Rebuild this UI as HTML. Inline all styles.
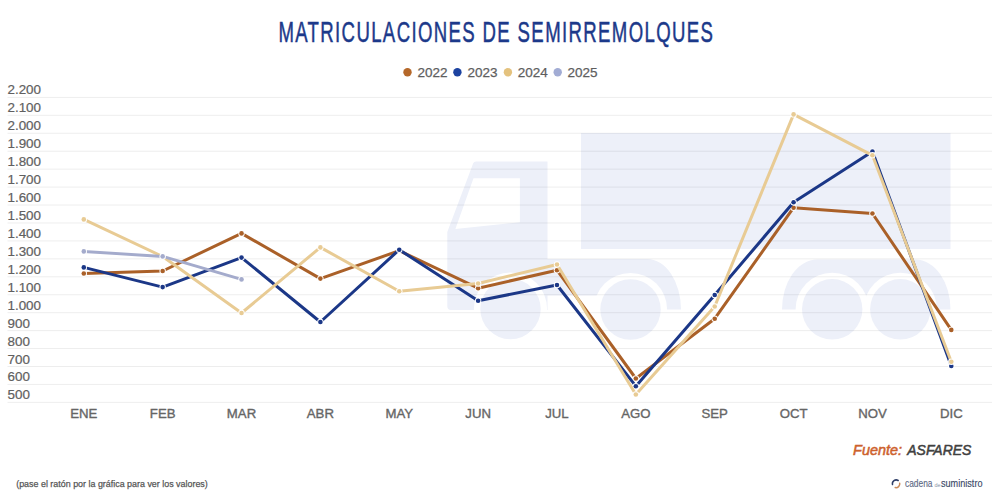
<!DOCTYPE html>
<html><head><meta charset="utf-8"><style>
html,body{margin:0;padding:0;background:#fff;width:1000px;height:500px;overflow:hidden}
svg{display:block}
text{font-family:"Liberation Sans",sans-serif}
</style></head><body>
<svg width="1000" height="500" viewBox="0 0 1000 500">
<rect width="1000" height="500" fill="#fff"/>
<g fill="#edf0f9"><rect x="581" y="133" width="369.5" height="116" />
<path d="M476,161.4 L547.5,161.4 L547.5,258.9 L647,258.9 A34,50.6 0 0 1 681,309.5 L630.5,309.5 L630.5,295.5 L547.5,295.5 L547.5,310 L451,310 Q447.3,310 447.3,306 L447.3,232 L473.2,163.2 Q473.9,161.4 476,161.4 Z"/>
<path d="M782,309.5 A35,49.9 0 0 1 817,259.6 L915.5,259.6 A35,49.9 0 0 1 950.5,309.5 Z"/></g>
<circle cx="510.5" cy="309.0" r="36.6" fill="#fff"/>
<circle cx="630.5" cy="309.5" r="36.6" fill="#fff"/>
<circle cx="832.2" cy="309.3" r="36.6" fill="#fff"/>
<circle cx="900.3" cy="309.3" r="36.6" fill="#fff"/>
<path d="M473.5,178.2 L519.9,178.2 L519.9,222.2 L455.4,228.9 Z" fill="#fff"/>
<g fill="#edf0f9"><circle cx="510.5" cy="309.0" r="30.2"/>
<circle cx="630.5" cy="309.5" r="30.2"/>
<circle cx="832.2" cy="309.3" r="30.2"/>
<circle cx="900.3" cy="309.3" r="30.2"/></g>
<g stroke="rgba(0,0,0,0.07)" stroke-width="1" fill="none">
<line x1="7.5" x2="992" y1="97.40" y2="97.40"/>
<line x1="7.5" x2="992" y1="115.34" y2="115.34"/>
<line x1="7.5" x2="992" y1="133.28" y2="133.28"/>
<line x1="7.5" x2="992" y1="151.22" y2="151.22"/>
<line x1="7.5" x2="992" y1="169.16" y2="169.16"/>
<line x1="7.5" x2="992" y1="187.10" y2="187.10"/>
<line x1="7.5" x2="992" y1="205.04" y2="205.04"/>
<line x1="7.5" x2="992" y1="222.98" y2="222.98"/>
<line x1="7.5" x2="992" y1="240.92" y2="240.92"/>
<line x1="7.5" x2="992" y1="258.86" y2="258.86"/>
<line x1="7.5" x2="992" y1="276.80" y2="276.80"/>
<line x1="7.5" x2="992" y1="294.74" y2="294.74"/>
<line x1="7.5" x2="992" y1="312.68" y2="312.68"/>
<line x1="7.5" x2="992" y1="330.62" y2="330.62"/>
<line x1="7.5" x2="992" y1="348.56" y2="348.56"/>
<line x1="7.5" x2="992" y1="366.50" y2="366.50"/>
<line x1="7.5" x2="992" y1="384.44" y2="384.44"/>
<line x1="7.5" x2="992" y1="402.38" y2="402.38"/>
</g>
<g font-size="13.4" fill="#606060" stroke="#606060" stroke-width="0.2">
<text x="7.5" y="94.40">2.200</text>
<text x="7.5" y="112.34">2.100</text>
<text x="7.5" y="130.28">2.000</text>
<text x="7.5" y="148.22">1.900</text>
<text x="7.5" y="166.16">1.800</text>
<text x="7.5" y="184.10">1.700</text>
<text x="7.5" y="202.04">1.600</text>
<text x="7.5" y="219.98">1.500</text>
<text x="7.5" y="237.92">1.400</text>
<text x="7.5" y="255.86">1.300</text>
<text x="7.5" y="273.80">1.200</text>
<text x="7.5" y="291.74">1.100</text>
<text x="7.5" y="309.68">1.000</text>
<text x="7.5" y="327.62">900</text>
<text x="7.5" y="345.56">800</text>
<text x="7.5" y="363.50">700</text>
<text x="7.5" y="381.44">600</text>
<text x="7.5" y="399.38">500</text>
</g>
<g font-size="13.2" fill="#656565" stroke="#656565" stroke-width="0.35" text-anchor="middle">
<text x="83.80" y="417.9">ENE</text>
<text x="162.66" y="417.9">FEB</text>
<text x="241.53" y="417.9">MAR</text>
<text x="320.39" y="417.9">ABR</text>
<text x="399.26" y="417.9">MAY</text>
<text x="478.12" y="417.9">JUN</text>
<text x="556.98" y="417.9">JUL</text>
<text x="635.85" y="417.9">AGO</text>
<text x="714.71" y="417.9">SEP</text>
<text x="793.58" y="417.9">OCT</text>
<text x="872.44" y="417.9">NOV</text>
<text x="951.30" y="417.9">DIC</text>
</g>
<polyline points="83.80,273.5 162.66,271.0 241.53,233.4 320.39,278.6 399.26,250.7 478.12,288.2 556.98,270.2 635.85,378.5 714.71,318.7 793.58,207.7 872.44,213.5 951.30,329.9" fill="none" stroke="#aa6028" stroke-width="3" stroke-linejoin="round" stroke-linecap="round"/>
<circle cx="83.80" cy="273.5" r="3.2" fill="#fff"/><circle cx="83.80" cy="273.5" r="2.3" fill="#aa6028"/>
<circle cx="162.66" cy="271.0" r="3.2" fill="#fff"/><circle cx="162.66" cy="271.0" r="2.3" fill="#aa6028"/>
<circle cx="241.53" cy="233.4" r="3.2" fill="#fff"/><circle cx="241.53" cy="233.4" r="2.3" fill="#aa6028"/>
<circle cx="320.39" cy="278.6" r="3.2" fill="#fff"/><circle cx="320.39" cy="278.6" r="2.3" fill="#aa6028"/>
<circle cx="399.26" cy="250.7" r="3.2" fill="#fff"/><circle cx="399.26" cy="250.7" r="2.3" fill="#aa6028"/>
<circle cx="478.12" cy="288.2" r="3.2" fill="#fff"/><circle cx="478.12" cy="288.2" r="2.3" fill="#aa6028"/>
<circle cx="556.98" cy="270.2" r="3.2" fill="#fff"/><circle cx="556.98" cy="270.2" r="2.3" fill="#aa6028"/>
<circle cx="635.85" cy="378.5" r="3.2" fill="#fff"/><circle cx="635.85" cy="378.5" r="2.3" fill="#aa6028"/>
<circle cx="714.71" cy="318.7" r="3.2" fill="#fff"/><circle cx="714.71" cy="318.7" r="2.3" fill="#aa6028"/>
<circle cx="793.58" cy="207.7" r="3.2" fill="#fff"/><circle cx="793.58" cy="207.7" r="2.3" fill="#aa6028"/>
<circle cx="872.44" cy="213.5" r="3.2" fill="#fff"/><circle cx="872.44" cy="213.5" r="2.3" fill="#aa6028"/>
<circle cx="951.30" cy="329.9" r="3.2" fill="#fff"/><circle cx="951.30" cy="329.9" r="2.3" fill="#aa6028"/>
<polyline points="83.80,267.4 162.66,287.1 241.53,257.6 320.39,322.0 399.26,249.7 478.12,300.7 556.98,285.0 635.85,386.2 714.71,295.0 793.58,202.3 872.44,151.6 951.30,366.0" fill="none" stroke="#1b3787" stroke-width="3" stroke-linejoin="round" stroke-linecap="round"/>
<circle cx="83.80" cy="267.4" r="3.2" fill="#fff"/><circle cx="83.80" cy="267.4" r="2.3" fill="#1b3787"/>
<circle cx="162.66" cy="287.1" r="3.2" fill="#fff"/><circle cx="162.66" cy="287.1" r="2.3" fill="#1b3787"/>
<circle cx="241.53" cy="257.6" r="3.2" fill="#fff"/><circle cx="241.53" cy="257.6" r="2.3" fill="#1b3787"/>
<circle cx="320.39" cy="322.0" r="3.2" fill="#fff"/><circle cx="320.39" cy="322.0" r="2.3" fill="#1b3787"/>
<circle cx="399.26" cy="249.7" r="3.2" fill="#fff"/><circle cx="399.26" cy="249.7" r="2.3" fill="#1b3787"/>
<circle cx="478.12" cy="300.7" r="3.2" fill="#fff"/><circle cx="478.12" cy="300.7" r="2.3" fill="#1b3787"/>
<circle cx="556.98" cy="285.0" r="3.2" fill="#fff"/><circle cx="556.98" cy="285.0" r="2.3" fill="#1b3787"/>
<circle cx="635.85" cy="386.2" r="3.2" fill="#fff"/><circle cx="635.85" cy="386.2" r="2.3" fill="#1b3787"/>
<circle cx="714.71" cy="295.0" r="3.2" fill="#fff"/><circle cx="714.71" cy="295.0" r="2.3" fill="#1b3787"/>
<circle cx="793.58" cy="202.3" r="3.2" fill="#fff"/><circle cx="793.58" cy="202.3" r="2.3" fill="#1b3787"/>
<circle cx="872.44" cy="151.6" r="3.2" fill="#fff"/><circle cx="872.44" cy="151.6" r="2.3" fill="#1b3787"/>
<circle cx="951.30" cy="366.0" r="3.2" fill="#fff"/><circle cx="951.30" cy="366.0" r="2.3" fill="#1b3787"/>
<polyline points="83.80,219.4 162.66,256.5 241.53,313.0 320.39,247.4 399.26,291.3 478.12,283.5 556.98,264.5 635.85,394.5 714.71,306.5 793.58,114.4 872.44,155.3 951.30,361.8" fill="none" stroke="#e8cb94" stroke-width="3" stroke-linejoin="round" stroke-linecap="round"/>
<circle cx="83.80" cy="219.4" r="3.2" fill="#fff"/><circle cx="83.80" cy="219.4" r="2.3" fill="#e8cb94"/>
<circle cx="162.66" cy="256.5" r="3.2" fill="#fff"/><circle cx="162.66" cy="256.5" r="2.3" fill="#e8cb94"/>
<circle cx="241.53" cy="313.0" r="3.2" fill="#fff"/><circle cx="241.53" cy="313.0" r="2.3" fill="#e8cb94"/>
<circle cx="320.39" cy="247.4" r="3.2" fill="#fff"/><circle cx="320.39" cy="247.4" r="2.3" fill="#e8cb94"/>
<circle cx="399.26" cy="291.3" r="3.2" fill="#fff"/><circle cx="399.26" cy="291.3" r="2.3" fill="#e8cb94"/>
<circle cx="478.12" cy="283.5" r="3.2" fill="#fff"/><circle cx="478.12" cy="283.5" r="2.3" fill="#e8cb94"/>
<circle cx="556.98" cy="264.5" r="3.2" fill="#fff"/><circle cx="556.98" cy="264.5" r="2.3" fill="#e8cb94"/>
<circle cx="635.85" cy="394.5" r="3.2" fill="#fff"/><circle cx="635.85" cy="394.5" r="2.3" fill="#e8cb94"/>
<circle cx="714.71" cy="306.5" r="3.2" fill="#fff"/><circle cx="714.71" cy="306.5" r="2.3" fill="#e8cb94"/>
<circle cx="793.58" cy="114.4" r="3.2" fill="#fff"/><circle cx="793.58" cy="114.4" r="2.3" fill="#e8cb94"/>
<circle cx="872.44" cy="155.3" r="3.2" fill="#fff"/><circle cx="872.44" cy="155.3" r="2.3" fill="#e8cb94"/>
<circle cx="951.30" cy="361.8" r="3.2" fill="#fff"/><circle cx="951.30" cy="361.8" r="2.3" fill="#e8cb94"/>
<polyline points="83.80,251.4 162.66,256.4 241.53,279.4" fill="none" stroke="#a4abcc" stroke-width="3" stroke-linejoin="round" stroke-linecap="round"/>
<circle cx="83.80" cy="251.4" r="3.2" fill="#fff"/><circle cx="83.80" cy="251.4" r="2.3" fill="#a4abcc"/>
<circle cx="162.66" cy="256.4" r="3.2" fill="#fff"/><circle cx="162.66" cy="256.4" r="2.3" fill="#a4abcc"/>
<circle cx="241.53" cy="279.4" r="3.2" fill="#fff"/><circle cx="241.53" cy="279.4" r="2.3" fill="#a4abcc"/>
<g transform="translate(278.4,0) scale(0.65,1)"><text x="0" y="42.3" font-size="28.6" fill="#1c398a" stroke="#1c398a" stroke-width="0.5" textLength="668.5" lengthAdjust="spacing">MATRICULACIONES DE SEMIRREMOLQUES</text></g>
<g font-size="13.5" fill="#5e5e5e" stroke="#5e5e5e" stroke-width="0.25">
<circle cx="407.5" cy="72.3" r="4.2" fill="#b5682a" stroke="none"/><text x="417.5" y="77">2022</text>
<circle cx="457.4" cy="72.3" r="4.2" fill="#1d43a0" stroke="none"/><text x="467.6" y="77">2023</text>
<circle cx="507.9" cy="72.3" r="4.2" fill="#e4c27e" stroke="none"/><text x="517.8" y="77">2024</text>
<circle cx="557.7" cy="72.3" r="4.2" fill="#a2acd4" stroke="none"/><text x="567.5" y="77">2025</text>
</g>
<text x="853.1" y="454.6" font-size="13.8" font-style="italic" fill="#cd612c" stroke="#cd612c" stroke-width="0.5" textLength="49" lengthAdjust="spacingAndGlyphs">Fuente:</text>
<text x="907.3" y="454.6" font-size="13.8" font-style="italic" fill="#404040" stroke="#404040" stroke-width="0.5" textLength="64" lengthAdjust="spacingAndGlyphs">ASFARES</text>
<text x="16.2" y="487" font-size="9.8" fill="#555" stroke="#555" stroke-width="0.25" textLength="191.6" lengthAdjust="spacingAndGlyphs">(pase el ratón por la gráfica para ver los valores)</text>
<g>
<path d="M898.2,480.5 A3.8,3.8 0 0 0 892.5,484.6" fill="none" stroke="#2f3f68" stroke-width="1.5" stroke-linecap="round"/>
<path d="M899.7,483.2 A3.8,3.8 0 0 1 895.2,487.6" fill="none" stroke="#c98a5a" stroke-width="1.5" stroke-linecap="round"/>
<text x="905" y="486.8" font-size="11.4" fill="#5d6985" stroke="#5d6985" stroke-width="0.15" textLength="27.5" lengthAdjust="spacingAndGlyphs">cadena</text>
<text x="934.5" y="486.5" font-size="5.5" fill="#8a93a8">de</text>
<text x="941" y="486.8" font-size="11.4" fill="#3a4866" stroke="#3a4866" stroke-width="0.15" textLength="41.5" lengthAdjust="spacingAndGlyphs">suministro</text>
</g>
</svg>
</body></html>
